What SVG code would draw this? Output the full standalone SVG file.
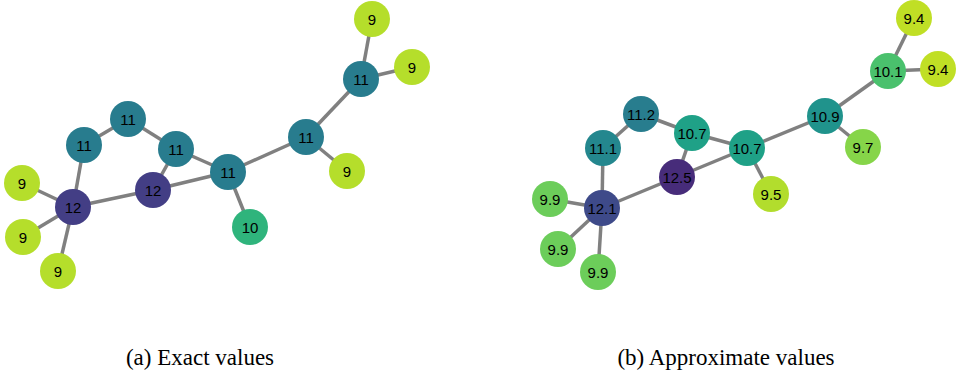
<svg xmlns="http://www.w3.org/2000/svg" width="956" height="373" viewBox="0 0 956 373">
<style>
.e line{stroke:#808080;stroke-width:3.5}
.n circle{stroke:none}
.n text{font-family:"Liberation Sans",Arial,sans-serif;font-size:15px;fill:#000;text-anchor:middle;dominant-baseline:central}
.cap{font-family:"Liberation Serif","Times New Roman",serif;font-size:23px;fill:#000;text-anchor:middle}
</style>
<rect width="956" height="373" fill="#fff"/>
<g id="edges-a" class="e">
<line x1="22" y1="183" x2="73" y2="207"/>
<line x1="23" y1="237" x2="73" y2="207"/>
<line x1="58" y1="271" x2="73" y2="207"/>
<line x1="73" y1="207" x2="84" y2="145"/>
<line x1="73" y1="207" x2="153" y2="190"/>
<line x1="84" y1="145" x2="128" y2="119"/>
<line x1="128" y1="119" x2="176" y2="149"/>
<line x1="176" y1="149" x2="153" y2="190"/>
<line x1="176" y1="149" x2="228" y2="172"/>
<line x1="153" y1="190" x2="228" y2="172"/>
<line x1="228" y1="172" x2="250" y2="227"/>
<line x1="228" y1="172" x2="306" y2="137"/>
<line x1="306" y1="137" x2="347" y2="171"/>
<line x1="306" y1="137" x2="361" y2="79"/>
<line x1="361" y1="79" x2="372" y2="19"/>
<line x1="361" y1="79" x2="412" y2="67"/>
</g>
<g id="edges-b" class="e">
<line x1="550" y1="199" x2="602" y2="208"/>
<line x1="558" y1="249" x2="602" y2="208"/>
<line x1="598" y1="272" x2="602" y2="208"/>
<line x1="602" y1="208" x2="603" y2="148"/>
<line x1="602" y1="208" x2="677" y2="177"/>
<line x1="603" y1="148" x2="641" y2="114"/>
<line x1="641" y1="114" x2="692" y2="133"/>
<line x1="692" y1="133" x2="677" y2="177"/>
<line x1="692" y1="133" x2="747" y2="148"/>
<line x1="677" y1="177" x2="747" y2="148"/>
<line x1="747" y1="148" x2="771" y2="194"/>
<line x1="747" y1="148" x2="825" y2="116"/>
<line x1="825" y1="116" x2="863" y2="147"/>
<line x1="825" y1="116" x2="888" y2="71"/>
<line x1="888" y1="71" x2="914" y2="18"/>
<line x1="888" y1="71" x2="938" y2="69"/>
</g>
<g id="a-h1" class="n"><circle cx="22" cy="183" r="18" fill="#b5de2b"/><text x="22" y="183">9</text></g>
<g id="a-h2" class="n"><circle cx="23" cy="237" r="18" fill="#b5de2b"/><text x="23" y="237">9</text></g>
<g id="a-h3" class="n"><circle cx="58" cy="271" r="18" fill="#b5de2b"/><text x="58" y="271">9</text></g>
<g id="a-c1" class="n"><circle cx="73" cy="207" r="18" fill="#433e85"/><text x="73" y="207">12</text></g>
<g id="a-c2" class="n"><circle cx="84" cy="145" r="18" fill="#287c8e"/><text x="84" y="145">11</text></g>
<g id="a-c3" class="n"><circle cx="128" cy="119" r="18" fill="#287c8e"/><text x="128" y="119">11</text></g>
<g id="a-c4" class="n"><circle cx="176" cy="149" r="18" fill="#287c8e"/><text x="176" y="149">11</text></g>
<g id="a-c5" class="n"><circle cx="153" cy="190" r="18" fill="#433e85"/><text x="153" y="190">12</text></g>
<g id="a-c6" class="n"><circle cx="228" cy="172" r="18" fill="#287c8e"/><text x="228" y="172">11</text></g>
<g id="a-o1" class="n"><circle cx="250" cy="227" r="18" fill="#2fb47c"/><text x="250" y="227">10</text></g>
<g id="a-c7" class="n"><circle cx="306" cy="137" r="18" fill="#287c8e"/><text x="306" y="137">11</text></g>
<g id="a-h4" class="n"><circle cx="347" cy="171" r="18" fill="#b5de2b"/><text x="347" y="171">9</text></g>
<g id="a-c8" class="n"><circle cx="361" cy="79" r="18" fill="#287c8e"/><text x="361" y="79">11</text></g>
<g id="a-h5" class="n"><circle cx="372" cy="19" r="18" fill="#b5de2b"/><text x="372" y="19">9</text></g>
<g id="a-h6" class="n"><circle cx="412" cy="67" r="18" fill="#b5de2b"/><text x="412" y="67">9</text></g>
<g id="b-h1" class="n"><circle cx="550" cy="199" r="18" fill="#6ccd5a"/><text x="550" y="199">9.9</text></g>
<g id="b-h2" class="n"><circle cx="558" cy="249" r="18" fill="#6ccd5a"/><text x="558" y="249">9.9</text></g>
<g id="b-h3" class="n"><circle cx="598" cy="272" r="18" fill="#6ccd5a"/><text x="598" y="272">9.9</text></g>
<g id="b-c1" class="n"><circle cx="602" cy="208" r="18" fill="#3e4a89"/><text x="602" y="208">12.1</text></g>
<g id="b-c2" class="n"><circle cx="603" cy="148" r="18" fill="#24878e"/><text x="603" y="148">11.1</text></g>
<g id="b-c3" class="n"><circle cx="641" cy="114" r="18" fill="#287d8e"/><text x="641" y="114">11.2</text></g>
<g id="b-c4" class="n"><circle cx="692" cy="133" r="18" fill="#1fa187"/><text x="692" y="133">10.7</text></g>
<g id="b-c5" class="n"><circle cx="677" cy="177" r="18" fill="#472c7a"/><text x="677" y="177">12.5</text></g>
<g id="b-c6" class="n"><circle cx="747" cy="148" r="18" fill="#1fa187"/><text x="747" y="148">10.7</text></g>
<g id="b-o1" class="n"><circle cx="771" cy="194" r="18" fill="#b2dd2d"/><text x="771" y="194">9.5</text></g>
<g id="b-c7" class="n"><circle cx="825" cy="116" r="18" fill="#20938c"/><text x="825" y="116">10.9</text></g>
<g id="b-h4" class="n"><circle cx="863" cy="147" r="18" fill="#86d549"/><text x="863" y="147">9.7</text></g>
<g id="b-c8" class="n"><circle cx="888" cy="71" r="18" fill="#4ac16d"/><text x="888" y="71">10.1</text></g>
<g id="b-h5" class="n"><circle cx="914" cy="18" r="18" fill="#c0df25"/><text x="914" y="18">9.4</text></g>
<g id="b-h6" class="n"><circle cx="938" cy="69" r="18" fill="#c0df25"/><text x="938" y="69">9.4</text></g>
<text class="cap" x="200" y="365">(a) Exact values</text>
<text class="cap" x="726" y="365">(b) Approximate values</text>
</svg>
